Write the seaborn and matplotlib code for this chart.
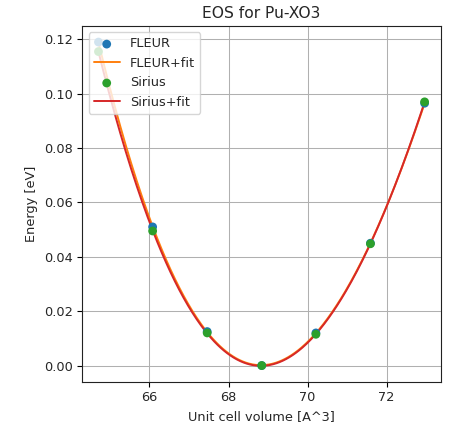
import numpy as np
import matplotlib
matplotlib.use("Agg")
import matplotlib.pyplot as plt
import seaborn as sns

volume = [64.71, 66.08, 67.46, 68.84, 70.21, 71.59, 72.96]
fleur_energy = [0.1190, 0.0510, 0.0125, 0.0000, 0.0120, 0.0450, 0.0965]
sirius_energy = [0.1155, 0.0495, 0.0120, 0.0000, 0.0115, 0.0448, 0.0970]

sns.set_style("ticks")
plt.rcParams['font.family'] = ['DejaVu Sans']

fig = plt.figure(figsize=(4.49, 4.24), dpi=100)
ax = fig.add_axes([0.183, 0.099, 0.799, 0.840])

# smooth fitted curves through each data set
v_fine = np.linspace(min(volume), max(volume), 300)
fleur_fit = np.polyval(np.polyfit(volume, fleur_energy, 3), v_fine)
sirius_fit = np.polyval(np.polyfit(volume, sirius_energy, 3), v_fine)

sns.scatterplot(x=volume, y=fleur_energy, color='tab:blue', s=40, edgecolor='none',
                label='FLEUR', ax=ax, zorder=3)
sns.lineplot(x=v_fine, y=fleur_fit, color='tab:orange', linewidth=1.4,
             label='FLEUR+fit', ax=ax, zorder=2)
sns.scatterplot(x=volume, y=sirius_energy, color='tab:green', s=40, edgecolor='none',
                label='Sirius', ax=ax, zorder=3)
sns.lineplot(x=v_fine, y=sirius_fit, color='tab:red', linewidth=1.4,
             label='Sirius+fit', ax=ax, zorder=2)

ax.set_xticks([66, 68, 70, 72])
ax.set_yticks([0.00, 0.02, 0.04, 0.06, 0.08, 0.10, 0.12])
ax.margins(0.05)
ax.grid(True, color='#b0b0b0', linewidth=0.75)
ax.set_title('EOS for Pu-XO3', fontsize=11.2)
ax.set_xlabel('Unit cell volume [A^3]', fontsize=9.3)
ax.set_ylabel('Energy [eV]', fontsize=9.3)
ax.tick_params(labelsize=9.3, color='black', length=3.3)
for sp in ax.spines.values():
    sp.set_color('#222222')
ax.legend(loc='upper left', fontsize=9.3, framealpha=0.8)

fig.savefig('out.png', dpi=100)
